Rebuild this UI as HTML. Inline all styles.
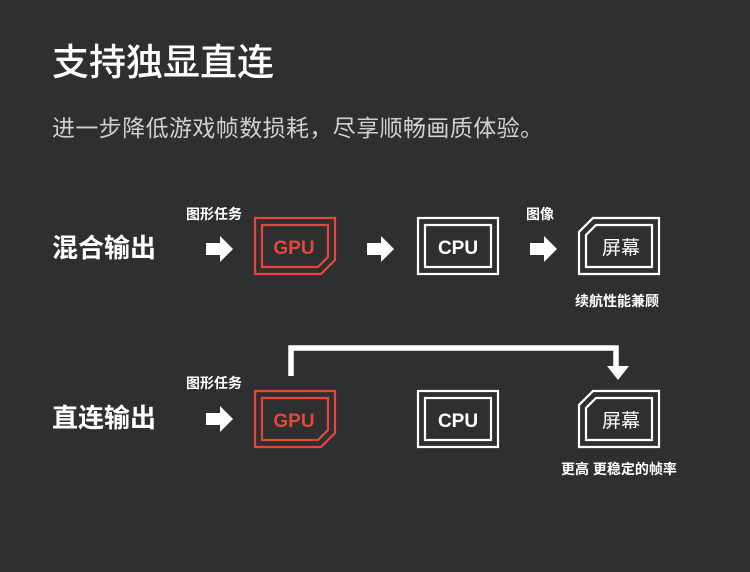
<!DOCTYPE html>
<html><head><meta charset="utf-8"><style>
html,body{margin:0;padding:0;background:#2e2f31;}
svg{display:block}
text{font-family:"Liberation Sans","Noto Sans CJK SC",sans-serif;}
</style></head><body>
<svg width="750" height="572" viewBox="0 0 750 572" xmlns="http://www.w3.org/2000/svg">
<rect width="750" height="572" fill="#2e2f31"/>
<text x="52" y="75" font-size="37" font-weight="500" fill="#fff" font-family="Noto Sans CJK SC, sans-serif">支持独显直连</text>
<text x="52" y="136" font-size="23" fill="#d0d0d0" font-family="Noto Sans CJK SC, sans-serif" letter-spacing="0.4">进一步降低游戏帧数损耗，尽享顺畅画质体验。</text>

<text x="52" y="257" font-size="26" font-weight="bold" fill="#fff">混合输出</text>
<text x="52" y="427" font-size="26" font-weight="bold" fill="#fff">直连输出</text>

<g font-size="14" font-weight="bold" fill="#fff">
<text x="186" y="219">图形任务</text>
<text x="526" y="219">图像</text>
<text x="575" y="306">续航性能兼顾</text>
<text x="186" y="388">图形任务</text>
<text x="561" y="474">更高 更稳定的帧率</text>
</g>

<defs>
<path id="arr" d="M0,-6 H14 V-13 L27,0 L14,13 V6 H0 Z" fill="#fff"/>
</defs>
<use href="#arr" x="206" y="249"/>
<use href="#arr" x="367" y="249"/>
<use href="#arr" x="530" y="249"/>
<use href="#arr" x="206" y="419"/>

<g fill="none" stroke-width="2.2">
<g transform="translate(0,0)">
<path d="M255,218 H335 V260 L321,274 H255 Z" stroke="#e5463b"/>
<path d="M262,225 H328 V257 L318,267 H262 Z" stroke="#e5463b"/>
<rect x="418" y="218" width="80" height="56" stroke="#fff"/>
<rect x="425" y="225" width="66" height="42" stroke="#fff"/>
<path d="M593,218 H659 V274 H579 V232 Z" stroke="#fff"/>
<path d="M596,225 H652 V267 H586 V235 Z" stroke="#fff"/>
</g>
<g transform="translate(0,173)">
<path d="M255,218 H335 V260 L321,274 H255 Z" stroke="#e5463b"/>
<path d="M262,225 H328 V257 L318,267 H262 Z" stroke="#e5463b"/>
<rect x="418" y="218" width="80" height="56" stroke="#fff"/>
<rect x="425" y="225" width="66" height="42" stroke="#fff"/>
<path d="M593,218 H659 V274 H579 V232 Z" stroke="#fff"/>
<path d="M596,225 H652 V267 H586 V235 Z" stroke="#fff"/>
</g>
</g>
<g font-size="19" font-weight="bold" text-anchor="middle">
<text x="294" y="254" fill="#e5463b">GPU</text>
<text x="458" y="254" fill="#fff">CPU</text>
<text x="621" y="254" fill="#fff" font-weight="normal">屏幕</text>
<text x="294" y="427" fill="#e5463b">GPU</text>
<text x="458" y="427" fill="#fff">CPU</text>
<text x="621" y="427" fill="#fff" font-weight="normal">屏幕</text>
</g>

<path d="M291,376 V348 H616 V368" fill="none" stroke="#fff" stroke-width="5.5"/>
<path d="M607,366 H629 L618,380 Z" fill="#fff"/>
</svg>
</body></html>
